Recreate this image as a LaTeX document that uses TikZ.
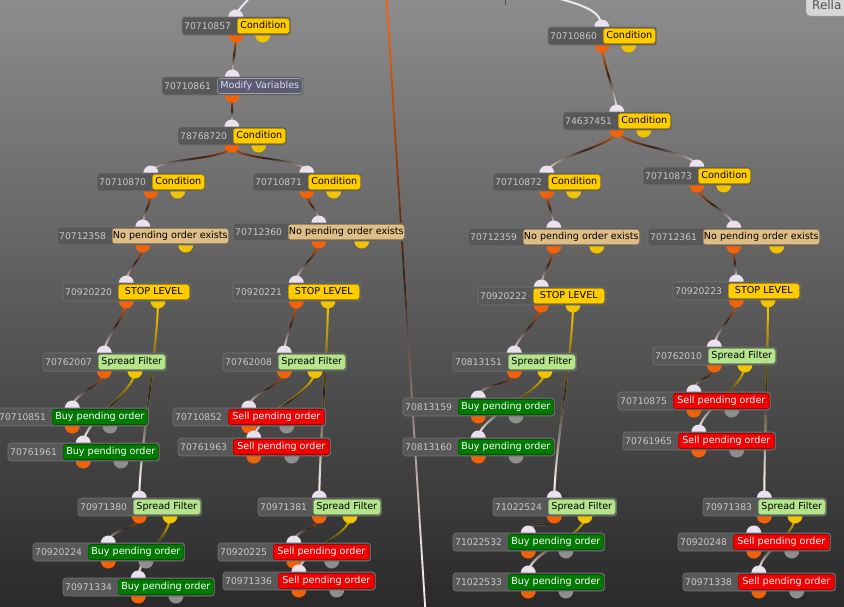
\documentclass[tikz,border=0pt]{standalone}
\usepackage{fontspec}
\setmainfont{DejaVu Sans}
\usetikzlibrary{calc, fadings}
\definecolor{bgtop}{RGB}{140,140,140}
\definecolor{bgmid}{RGB}{96,96,96}
\definecolor{bgbot}{RGB}{42,42,42}
\definecolor{idgray}{RGB}{88,88,88}
\definecolor{idtext}{RGB}{200,200,200}
\definecolor{condyel}{RGB}{255,204,0}
\definecolor{modslate}{RGB}{92,92,112}
\definecolor{pendtan}{RGB}{222,190,134}
\definecolor{spreadgrn}{RGB}{180,228,140}
\definecolor{buygrn}{RGB}{0,122,0}
\definecolor{sellred}{RGB}{242,0,0}
\definecolor{portorg}{RGB}{242,98,8}
\definecolor{portyel}{RGB}{242,196,0}
\definecolor{portgry}{RGB}{142,142,142}
\definecolor{portin}{RGB}{234,224,238}
\definecolor{wirelight}{RGB}{238,232,242}

\pgfdeclarelayer{back}
\pgfdeclarelayer{wires}
\pgfdeclarelayer{frames}
\pgfsetlayers{back,wires,frames,main}

% wire colour runs: port colour -> dark -> light
\begin{tikzfadingfrompicture}[name=fadedark]
  \fill[transparent!100] (-2000bp,-100bp) rectangle (2000bp,100bp);
  \shade[top color=transparent!100, bottom color=transparent!0] (-2000bp,22bp) rectangle (2000bp,2bp);
  \fill[transparent!0] (-2000bp,2bp) rectangle (2000bp,-100bp);
\end{tikzfadingfrompicture}
\begin{tikzfadingfrompicture}[name=fadelight]
  \fill[transparent!100] (-2000bp,-100bp) rectangle (2000bp,100bp);
  \shade[top color=transparent!100, bottom color=transparent!0] (-2000bp,2bp) rectangle (2000bp,-20bp);
  \fill[transparent!0] (-2000bp,-20bp) rectangle (2000bp,-100bp);
\end{tikzfadingfrompicture}

% block: name, x, y, id, style, second port, label
\newcommand{\blk}[7]{%
  \node[#5, anchor=west] (#1) at (#2+55,#3) {#7};
  \node[idtxt, anchor=west] (#1-id) at (#2+2,#3) {#4};
  \coordinate (#1-in) at ($(#2,#3)!0.5!(#1.east)+(0,-9)$);
  \coordinate (#1-o1) at ($(#2,#3)!0.5!(#1.east)+(0,9)$);
  \coordinate (#1-o2) at ($(#2,#3)!0.75!(#1.east)+(0,9)$);
  \begin{pgfonlayer}{frames}
    \fill[portin] (#1-in) circle (7.5);
    \fill[portorg] (#1-o1) circle (7.5);
    \fill[#6] (#1-o2) circle (7.5);
    \draw[idframe] (#2,#3-9) rectangle ($(#1.east)+(1,9)$);
  \end{pgfonlayer}
}
\newcommand{\wire}[4][16]{\draw[wire=#4] (#2) .. controls +(0,#1) and +(0,-#1) .. (#3);}

\begin{document}
\begin{tikzpicture}[x=1pt, y=-1pt,
    lbl/.style={rectangle, rounded corners=2.5pt, inner xsep=0.5pt, inner ysep=0pt, minimum height=15pt,
      text height=7.2pt, text depth=2pt, font=\fontsize{9.6}{11}\selectfont, line width=0.6pt},
    cond/.style={lbl, fill=condyel, draw=condyel!70!black, text=black, minimum width=52pt},
    modvar/.style={lbl, fill=modslate, draw=modslate!60!white, text=white!85!blue, minimum width=85pt},
    nopend/.style={lbl, fill=pendtan, draw=pendtan!70!black, text=black, minimum width=116pt},
    stoplvl/.style={cond, minimum width=71pt},
    spread/.style={lbl, fill=spreadgrn, draw=spreadgrn!70!black, text=black, minimum width=67pt},
    buy/.style={lbl, fill=buygrn, draw=buygrn!70!black, text=white, minimum width=95pt},
    sell/.style={lbl, fill=sellred, draw=sellred!70!black, text=white, minimum width=96pt},
    idtxt/.style={font=\fontsize{9.2}{11}\selectfont, text=idtext, inner sep=0pt},
    idframe/.style={fill=idgray, draw=black!55, rounded corners=3pt, line width=0.6pt},
    wire/.style={draw=#1, line width=2pt,
      postaction={draw=black!85, path fading=fadedark},
      postaction={draw=wirelight, path fading=fadelight}},
    wireend/.style={draw=wirelight, line width=2pt}
]
\useasboundingbox (0,0) rectangle (844,606);
\begin{pgfonlayer}{back}
  \shade[top color=bgtop, middle color=bgmid, bottom color=bgbot] (0,0) rectangle (844,606);
\end{pgfonlayer}

% left tree
\blk{n1}{182}{26}{70710857}{cond}{portyel}{Condition}
\blk{n2}{162}{86}{70710861}{modvar}{fill=none}{Modify Variables}
\blk{n3}{178}{136}{78768720}{cond}{portyel}{Condition}
\blk{n4}{97}{182}{70710870}{cond}{portyel}{Condition}
\blk{n5}{253}{182}{70710871}{cond}{portyel}{Condition}
\blk{n6}{57}{236}{70712358}{nopend}{portyel}{No pending order exists}
\blk{n7}{233}{232}{70712360}{nopend}{portyel}{No pending order exists}
\blk{n8}{63}{292}{70920220}{stoplvl}{portyel}{STOP LEVEL}
\blk{n9}{233}{292}{70920221}{stoplvl}{portyel}{STOP LEVEL}
\blk{n10}{43}{362}{70762007}{spread}{portyel}{Spread Filter}
\blk{n11}{223}{362}{70762008}{spread}{portyel}{Spread Filter}
\blk{n12}{-3}{417}{70710851}{buy}{portgry}{Buy pending order}
\blk{n13}{8}{452}{70761961}{buy}{portgry}{Buy pending order}
\blk{n14}{173}{417}{70710852}{sell}{portgry}{Sell pending order}
\blk{n15}{178}{447}{70761963}{sell}{portgry}{Sell pending order}
\blk{n16}{78}{507}{70971380}{spread}{portyel}{Spread Filter}
\blk{n17}{258}{507}{70971381}{spread}{portyel}{Spread Filter}
\blk{n18}{33}{552}{70920224}{buy}{portgry}{Buy pending order}
\blk{n19}{63}{587}{70971334}{buy}{portgry}{Buy pending order}
\blk{n20}{218}{552}{70920225}{sell}{portgry}{Sell pending order}
\blk{n21}{223}{581}{70971336}{sell}{portgry}{Sell pending order}

% right tree
\blk{n22}{548}{36}{70710860}{cond}{portyel}{Condition}
\blk{n23}{563}{121}{74637451}{cond}{portyel}{Condition}
\blk{n24}{493}{182}{70710872}{cond}{portyel}{Condition}
\blk{n25}{643}{176}{70710873}{cond}{portyel}{Condition}
\blk{n26}{468}{237}{70712359}{nopend}{portyel}{No pending order exists}
\blk{n27}{648}{237}{70712361}{nopend}{portyel}{No pending order exists}
\blk{n28}{478}{296}{70920222}{stoplvl}{portyel}{STOP LEVEL}
\blk{n29}{673}{291}{70920223}{stoplvl}{portyel}{STOP LEVEL}
\blk{n30}{453}{362}{70813151}{spread}{portyel}{Spread Filter}
\blk{n31}{653}{356}{70762010}{spread}{portyel}{Spread Filter}
\blk{n32}{403}{407}{70813159}{buy}{portgry}{Buy pending order}
\blk{n33}{403}{447}{70813160}{buy}{portgry}{Buy pending order}
\blk{n34}{618}{401}{70710875}{sell}{portgry}{Sell pending order}
\blk{n35}{623}{441}{70761965}{sell}{portgry}{Sell pending order}
\blk{n36}{493}{507}{71022524}{spread}{portyel}{Spread Filter}
\blk{n37}{703}{507}{70971383}{spread}{portyel}{Spread Filter}
\blk{n38}{453}{542}{71022532}{buy}{portgry}{Buy pending order}
\blk{n39}{453}{582}{71022533}{buy}{portgry}{Buy pending order}
\blk{n40}{678}{542}{70920248}{sell}{portgry}{Sell pending order}
\blk{n41}{683}{582}{70971338}{sell}{portgry}{Sell pending order}

% button at the top right corner
\draw[fill=black!16, draw=black!40, rounded corners=4pt] (806,-8) rectangle (880,16);
\node[anchor=west, text=black!68, font=\fontsize{12}{14}\selectfont, inner sep=0pt] (rella) at (812,5) {Rella};
\coordinate (tickA) at (505,0);
\coordinate (tickB) at (505,5);
\draw[black!70, line width=0.8pt] (tickA) -- (tickB);

\coordinate (inA) at (249,-2);
\coordinate (inB) at (553,-3);
\coordinate (farA) at (386,-12);
\coordinate (farB) at (426,620);

\begin{pgfonlayer}{wires}
% wires coming from off screen
\draw[wireend] (inA) .. controls +(-4,6) and +(0,-6) .. (n1-in);
\draw[wireend] (inB) .. controls +(30,8) and +(0,-16) .. (n22-in);
\draw[wire=portorg, line width=1.8pt] (farA) -- (farB);

% left tree
\wire{n1-o1}{n2-in}{portorg}
\wire{n2-o1}{n3-in}{portorg}
\wire{n3-o1}{n4-in}{portorg}
\wire{n3-o1}{n5-in}{portorg}
\wire{n4-o1}{n6-in}{portorg}
\wire{n5-o1}{n7-in}{portorg}
\wire{n6-o1}{n8-in}{portorg}
\wire{n7-o1}{n9-in}{portorg}
\wire{n8-o1}{n10-in}{portorg}
\wire{n9-o1}{n11-in}{portorg}
\wire[45]{n8-o2}{n16-in}{portyel}
\wire[45]{n9-o2}{n17-in}{portyel}
\wire{n10-o1}{n12-in}{portorg}
\wire[22]{n10-o2}{n13-in}{portyel}
\wire{n11-o1}{n14-in}{portorg}
\wire[22]{n11-o2}{n15-in}{portyel}
\wire{n16-o1}{n18-in}{portorg}
\wire[22]{n16-o2}{n19-in}{portyel}
\wire{n17-o1}{n20-in}{portorg}
\wire[22]{n17-o2}{n21-in}{portyel}

% right tree
\wire{n22-o1}{n23-in}{portorg}
\wire{n23-o1}{n24-in}{portorg}
\wire{n23-o1}{n25-in}{portorg}
\wire{n24-o1}{n26-in}{portorg}
\wire{n25-o1}{n27-in}{portorg}
\wire{n26-o1}{n28-in}{portorg}
\wire{n27-o1}{n29-in}{portorg}
\wire{n28-o1}{n30-in}{portorg}
\wire{n29-o1}{n31-in}{portorg}
\wire[45]{n28-o2}{n36-in}{portyel}
\wire[45]{n29-o2}{n37-in}{portyel}
\wire{n30-o1}{n32-in}{portorg}
\wire[22]{n30-o2}{n33-in}{portyel}
\wire{n31-o1}{n34-in}{portorg}
\wire[22]{n31-o2}{n35-in}{portyel}
\wire{n36-o1}{n38-in}{portorg}
\wire[22]{n36-o2}{n39-in}{portyel}
\wire{n37-o1}{n40-in}{portorg}
\wire[22]{n37-o2}{n41-in}{portyel}
\end{pgfonlayer}
\end{tikzpicture}
\end{document}
